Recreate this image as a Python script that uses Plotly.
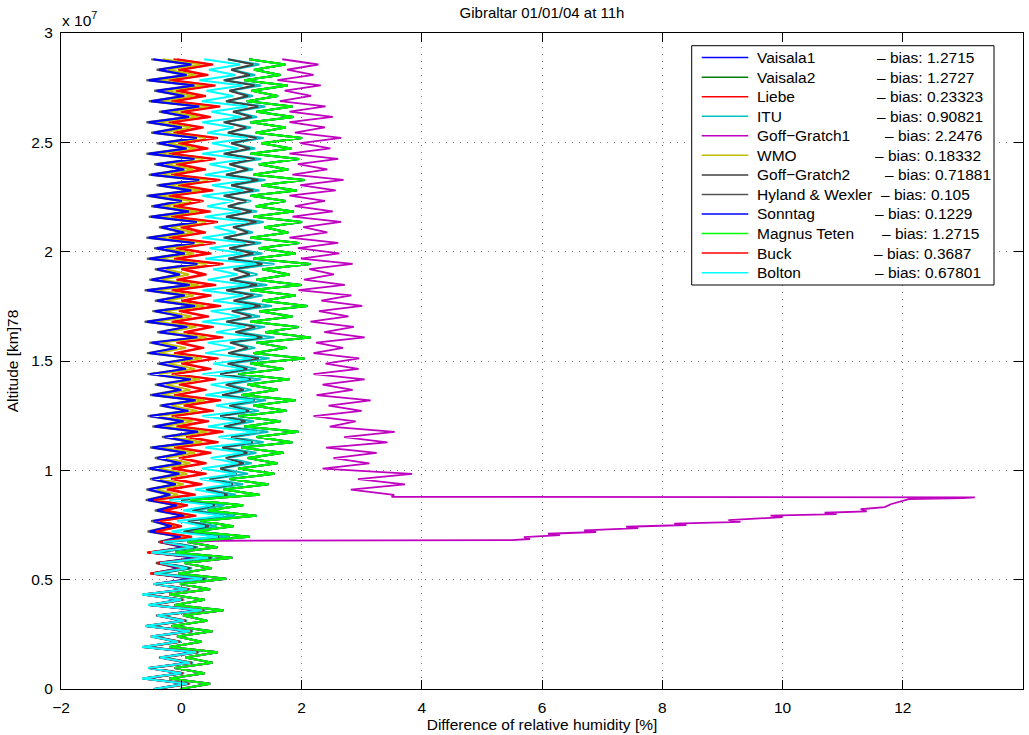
import plotly.graph_objects as go

# ---------------- data (altitude grid + relative-humidity differences, %) ----------------
alt = [k * 240000 for k in range(121)]

bolton = [-0.45, 0.10, -0.65, 0.0, -0.55, 0.15, -0.35, 0.25, -0.65, -0.05,
          -0.5, 0.15, -0.6, 0.05, -0.4, 0.35, -0.55, 0.0, -0.65, 0.1,
          -0.45, 0.35, -0.45, 0.1, -0.35, 0.45, -0.5, 0.2, -0.3, 0.61,
          -0.16, 0.39, -0.07, 0.7, 0.03, 0.52, -0.2, 0.71, 0.23, 0.83,
          0.31, 0.91, 0.35, 0.94, 0.49, 1.03, 0.4, 1.16, 0.62, 1.25,
          0.44, 0.98, 0.35, 1.07, 0.58, 1.2, 0.4, 0.94, 0.49, 1.12,
          0.35, 1.03, 0.53, 1.16, 0.4, 0.89, 0.44, 1.25, 0.58, 1.07,
          0.35, 0.98, 0.49, 1.2, 0.53, 1.03, 0.35, 1.12, 0.44, 0.94,
          0.53, 1.25, 0.4, 1.03, 0.47, 1.07, 0.35, 0.91, 0.55, 1.11,
          0.39, 0.99, 0.43, 0.87, 0.35, 1.03, 0.51, 1.15, 0.39, 0.91,
          0.47, 1.07, 0.35, 0.95, 0.51, 1.11, 0.43, 0.87, 0.35, 0.99,
          0.5, 1.1, 0.34, 0.86, 0.42, 1.02, 0.3, 0.9, 0.46, 0.98, 0.38]

sonntag = [-0.42, 0.08, -0.6, -0.02, -0.51, 0.12, -0.33, 0.21, -0.6, -0.06,
           -0.47, 0.12, -0.56, 0.03, -0.38, 0.3, -0.51, -0.02, -0.6, 0.08,
           -0.42, 0.18, -0.46, -0.02, -0.38, 0.26, -0.5, 0.06, -0.34, -0.01,
           -0.52, -0.16, -0.46, 0.05, -0.4, -0.07, -0.55, -0.18, -0.54, -0.09,
           -0.48, -0.03, -0.52, 0.0, -0.4, 0.08, -0.48, 0.2, -0.28, 0.28,
           -0.44, 0.04, -0.52, 0.12, -0.32, 0.24, -0.48, 0.0, -0.4, 0.16,
           -0.52, 0.08, -0.36, 0.19, -0.53, -0.07, -0.49, 0.27, -0.36, 0.1,
           -0.57, 0.02, -0.44, 0.23, -0.4, 0.06, -0.57, 0.14, -0.49, -0.02,
           -0.4, 0.27, -0.53, 0.06, -0.41, 0.22, -0.54, 0.05, -0.33, 0.26,
           -0.5, 0.13, -0.46, 0.01, -0.54, 0.17, -0.37, 0.3, -0.5, 0.05,
           -0.41, 0.22, -0.54, 0.09, -0.37, 0.26, -0.46, 0.01, -0.54, 0.13,
           -0.33, 0.3, -0.5, 0.05, -0.41, 0.22, -0.54, 0.09, -0.37, 0.17, -0.46]

hyland_wexler = [-0.46, 0.06, -0.64, -0.04, -0.55, 0.10, -0.37, 0.19, -0.64, -0.08,
                 -0.51, 0.10, -0.60, 0.01, -0.42, 0.28, -0.55, -0.04, -0.64, 0.06,
                 -0.46, 0.16, -0.50, -0.04, -0.42, 0.24, -0.54, 0.04, -0.38, -0.03,
                 -0.56, -0.18, -0.50, 0.03, -0.44, -0.09, -0.59, -0.20, -0.58, -0.11,
                 -0.52, -0.05, -0.56, -0.02, -0.44, 0.06, -0.52, 0.18, -0.32, 0.26,
                 -0.48, 0.02, -0.56, 0.10, -0.36, 0.22, -0.52, -0.02, -0.44, 0.14,
                 -0.56, 0.06, -0.40, 0.17, -0.57, -0.09, -0.53, 0.25, -0.40, 0.08,
                 -0.61, 0.0, -0.48, 0.21, -0.44, 0.04, -0.61, 0.12, -0.53, -0.04,
                 -0.44, 0.25, -0.57, 0.04, -0.45, 0.20, -0.58, 0.03, -0.37, 0.24,
                 -0.54, 0.11, -0.50, -0.01, -0.58, 0.15, -0.41, 0.28, -0.54, 0.03,
                 -0.45, 0.20, -0.58, 0.07, -0.41, 0.24, -0.50, -0.01, -0.58, 0.11,
                 -0.37, 0.28, -0.54, 0.03, -0.45, 0.20, -0.58, 0.07, -0.41, 0.15, -0.50]

wmo = [-0.40, 0.10, -0.58, 0.0, -0.49, 0.14, -0.31, 0.23, -0.58, -0.04,
       -0.45, 0.14, -0.54, 0.05, -0.36, 0.32, -0.49, 0.0, -0.58, 0.10,
       -0.40, 0.23, -0.41, 0.03, -0.33, 0.31, -0.45, 0.11, -0.29, 0.12,
       -0.39, -0.03, -0.33, 0.18, -0.27, 0.06, -0.42, -0.05, -0.41, 0.04,
       -0.35, 0.1, -0.37, 0.15, -0.25, 0.23, -0.33, 0.35, -0.13, 0.43,
       -0.29, 0.19, -0.37, 0.27, -0.17, 0.39, -0.33, 0.15, -0.25, 0.31,
       -0.37, 0.23, -0.21, 0.34, -0.38, 0.08, -0.34, 0.42, -0.21, 0.25,
       -0.42, 0.17, -0.29, 0.38, -0.25, 0.21, -0.42, 0.29, -0.34, 0.13,
       -0.25, 0.42, -0.38, 0.21, -0.26, 0.37, -0.39, 0.2, -0.18, 0.41,
       -0.35, 0.28, -0.31, 0.16, -0.39, 0.32, -0.22, 0.45, -0.35, 0.2,
       -0.26, 0.37, -0.39, 0.24, -0.22, 0.41, -0.31, 0.16, -0.39, 0.28,
       -0.18, 0.45, -0.35, 0.2, -0.26, 0.37, -0.39, 0.24, -0.22, 0.32, -0.31]

buck = [-0.43, 0.12, -0.63, 0.02, -0.53, 0.17, -0.33, 0.27, -0.63, -0.03,
        -0.48, 0.17, -0.58, 0.07, -0.38, 0.37, -0.53, 0.02, -0.63, 0.12,
        -0.43, 0.30, -0.50, 0.05, -0.40, 0.40, -0.55, 0.15, -0.35, 0.18,
        -0.42, 0.01, -0.35, 0.25, -0.28, 0.11, -0.45, 0.24, -0.18, 0.35,
        -0.11, 0.42, -0.1, 0.42, 0.02, 0.5, -0.06, 0.62, 0.14, 0.7,
        -0.02, 0.46, -0.1, 0.54, 0.1, 0.66, -0.06, 0.42, 0.02, 0.58,
        -0.1, 0.5, 0.06, 0.62, -0.06, 0.38, -0.02, 0.7, 0.1, 0.54,
        -0.1, 0.46, 0.02, 0.66, 0.06, 0.5, -0.1, 0.58, -0.02, 0.42,
        0.06, 0.7, -0.06, 0.5, -0.03, 0.57, -0.15, 0.41, 0.05, 0.61,
        -0.11, 0.49, -0.07, 0.37, -0.15, 0.53, 0.01, 0.65, -0.11, 0.41,
        -0.03, 0.57, -0.15, 0.45, 0.01, 0.61, -0.07, 0.37, -0.15, 0.49,
        0.05, 0.65, -0.11, 0.41, -0.03, 0.57, -0.15, 0.45, 0.01, 0.53, -0.07]

liebe = [-0.44, 0.11, -0.64, 0.01, -0.54, 0.16, -0.34, 0.26, -0.64, -0.04,
         -0.49, 0.16, -0.59, 0.06, -0.39, 0.36, -0.54, 0.01, -0.64, 0.11,
         -0.44, 0.28, -0.52, 0.03, -0.42, 0.38, -0.57, 0.13, -0.37, 0.12,
         -0.48, -0.05, -0.41, 0.19, -0.34, 0.05, -0.51, 0.18, -0.24, 0.29,
         -0.17, 0.36, -0.16, 0.36, -0.04, 0.44, -0.12, 0.56, 0.08, 0.64,
         -0.08, 0.40, -0.16, 0.48, 0.04, 0.60, -0.12, 0.36, -0.04, 0.52,
         -0.16, 0.44, 0.0, 0.56, -0.12, 0.32, -0.08, 0.64, 0.04, 0.48,
         -0.16, 0.40, -0.04, 0.60, 0.0, 0.44, -0.16, 0.52, -0.08, 0.36,
         0.0, 0.64, -0.12, 0.44, -0.09, 0.51, -0.21, 0.35, -0.01, 0.55,
         -0.17, 0.43, -0.13, 0.31, -0.21, 0.47, -0.05, 0.59, -0.17, 0.35,
         -0.09, 0.51, -0.21, 0.39, -0.05, 0.55, -0.13, 0.31, -0.21, 0.43,
         -0.01, 0.59, -0.17, 0.35, -0.09, 0.51, -0.21, 0.39, -0.05, 0.47, -0.13]

itu = [-0.40, 0.15, -0.60, 0.05, -0.50, 0.20, -0.30, 0.30, -0.60, 0.0,
       -0.45, 0.20, -0.55, 0.10, -0.35, 0.40, -0.50, 0.05, -0.60, 0.15,
       -0.40, 0.43, -0.37, 0.18, -0.27, 0.53, -0.42, 0.28, -0.22, 0.81,
       0.04, 0.59, 0.13, 0.9, 0.23, 0.72, 0.0, 0.91, 0.43, 1.03,
       0.51, 1.11, 0.65, 1.17, 0.77, 1.25, 0.69, 1.37, 0.89, 1.45,
       0.73, 1.21, 0.65, 1.29, 0.85, 1.41, 0.69, 1.17, 0.77, 1.33,
       0.65, 1.25, 0.81, 1.47, 0.79, 1.23, 0.83, 1.55, 0.95, 1.39,
       0.75, 1.31, 0.87, 1.51, 0.91, 1.35, 0.75, 1.43, 0.83, 1.27,
       0.91, 1.55, 0.79, 1.35, 0.81, 1.33, 0.7, 1.19, 0.88, 1.37,
       0.74, 1.26, 0.77, 1.16, 0.7, 1.3, 0.84, 1.4, 0.74, 1.19,
       0.81, 1.33, 0.7, 1.23, 0.84, 1.37, 0.77, 1.16, 0.7, 1.26,
       0.88, 1.4, 0.74, 1.19, 0.81, 1.33, 0.7, 1.23, 0.84, 1.3, 0.77]

goff_gratch2 = [-0.42, 0.13, -0.62, 0.03, -0.52, 0.18, -0.32, 0.28, -0.62, -0.02,
                -0.47, 0.18, -0.57, 0.08, -0.37, 0.38, -0.52, 0.03, -0.62, 0.13,
                -0.42, 0.40, -0.40, 0.15, -0.30, 0.50, -0.45, 0.25, -0.25, 0.63,
                0.04, 0.46, 0.11, 0.7, 0.18, 0.56, 0.0, 0.77, 0.41, 0.86,
                0.47, 0.92, 0.65, 1.04, 0.74, 1.1, 0.68, 1.19, 0.83, 1.25,
                0.71, 1.07, 0.65, 1.13, 0.8, 1.22, 0.68, 1.04, 0.74, 1.16,
                0.65, 1.1, 0.77, 1.29, 0.78, 1.11, 0.81, 1.35, 0.9, 1.23,
                0.75, 1.17, 0.84, 1.32, 0.87, 1.2, 0.75, 1.26, 0.81, 1.14,
                0.87, 1.35, 0.78, 1.2, 0.8, 1.22, 0.72, 1.11, 0.86, 1.25,
                0.75, 1.17, 0.78, 1.08, 0.72, 1.2, 0.83, 1.28, 0.75, 1.11,
                0.8, 1.22, 0.72, 1.14, 0.83, 1.25, 0.78, 1.08, 0.72, 1.17,
                0.86, 1.28, 0.75, 1.11, 0.8, 1.22, 0.72, 1.14, 0.83, 1.2, 0.78]

magnus_teten = [-0.02, 0.48, -0.2, 0.39, -0.11, 0.52, 0.07, 0.61, -0.2, 0.34,
                -0.07, 0.52, -0.16, 0.43, 0.03, 0.7, -0.11, 0.39, -0.2, 0.48,
                -0.02, 0.75, -0.05, 0.5, 0.05, 0.85, -0.1, 0.6, 0.1, 1.14,
                0.21, 0.87, 0.32, 1.25, 0.43, 1.03, 0.15, 1.3, 0.7, 1.45,
                0.8, 1.55, 0.95, 1.6, 1.1, 1.7, 1.0, 1.85, 1.25, 1.95,
                1.05, 1.65, 0.95, 1.75, 1.2, 1.9, 1.0, 1.6, 1.1, 1.8,
                0.95, 1.7, 1.15, 2.05, 1.2, 1.75, 1.25, 2.15, 1.4, 1.95,
                1.15, 1.85, 1.3, 2.1, 1.35, 1.9, 1.15, 2.0, 1.25, 1.8,
                1.35, 2.15, 1.2, 1.9, 1.29, 1.96, 1.15, 1.78, 1.38, 2.01,
                1.2, 1.87, 1.24, 1.74, 1.15, 1.92, 1.33, 2.05, 1.2, 1.78,
                1.29, 1.96, 1.15, 1.83, 1.33, 2.01, 1.24, 1.74, 1.15, 1.87,
                1.25, 1.85, 1.09, 1.61, 1.17, 1.77, 1.05, 1.65, 1.21, 1.73, 1.13]

# Vaisala1 has the same bias as Magnus Teten (identical profile); Vaisala2 is practically identical
vaisala1 = magnus_teten
vaisala2 = magnus_teten

# Goff-Gratch1: the big excursion between ~6.8e6 and ~8.8e6
gg1_ramp_alt = [6780000, 6810000, 6860000, 6950000, 7040000, 7100000, 7180000, 7250000,
                7360000, 7420000, 7500000, 7560000, 7640000, 7720000, 7860000, 7930000,
                8000000, 8060000, 8120000, 8220000, 8320000, 8450000, 8610000, 8680000,
                8730000, 8760000, 8790000]
gg1_ramp_x = [0.6, 5.5, 5.8, 5.7, 6.3, 6.1, 6.9, 6.7,
              7.6, 7.4, 8.4, 8.2, 9.3, 9.1, 10.0, 9.8,
              10.9, 10.7, 11.4, 11.3, 11.7, 11.8, 12.0, 12.1,
              13.0, 13.2, 3.5]
gg1_upper = [3.54, 2.82, 3.72, 2.94, 3.84,
             2.35, 3.13, 2.53, 3.25, 2.41, 3.43, 2.71, 3.55, 2.47,
             2.9, 2.2, 3.0, 2.45, 3.15, 2.25, 2.85, 2.35, 3.05, 2.2, 2.95, 2.4,
             2.96, 2.2, 2.69, 2.24, 3.05, 2.38, 2.87, 2.15, 2.78, 2.29, 3.01, 2.33, 2.83,
             1.95, 2.72, 2.04, 2.54, 2.13, 2.85, 1.99, 2.63,
             1.94, 2.61, 1.8, 2.43, 2.03, 2.66, 1.85, 2.52, 1.89, 2.39, 1.8, 2.57, 1.98,
             2.7, 1.85, 2.43, 1.94, 2.61, 1.8, 2.48, 1.98, 2.66, 1.89, 2.39, 1.8, 2.52,
             1.8, 2.4, 1.64, 2.16, 1.72, 2.32, 1.6, 2.2, 1.76, 2.28, 1.68]
gg1_alt = alt[:29] + gg1_ramp_alt + alt[37:]
goff_gratch1 = magnus_teten[:29] + gg1_ramp_x + gg1_upper

for arr in (bolton, sonntag, hyland_wexler, wmo, buck, liebe, itu, goff_gratch2, magnus_teten):
    assert len(arr) == len(alt), len(arr)
assert len(gg1_alt) == len(goff_gratch1), (len(gg1_alt), len(goff_gratch1))

names = ["Vaisala1", "Vaisala2", "Liebe", "ITU", "Goff\u2212Gratch1", "WMO", "Goff\u2212Gratch2",
         "Hyland & Wexler", "Sonntag", "Magnus Teten", "Buck", "Bolton"]
biases = ["1.2715", "1.2727", "0.23323", "0.90821", "2.2476", "0.18332", "0.71881",
          "0.105", "0.1229", "1.2715", "0.3687", "0.67801"]
colors = ["#0000ff", "#008000", "#ff0000", "#00bfbf", "#bf00bf", "#bfbf00", "#404040",
          "#555555", "#0000ff", "#00ff00", "#ff0000", "#00ffff"]
widths = [2, 2, 2, 2, 1.8, 2, 2, 2, 2, 2, 2, 2]
xs = [vaisala1, vaisala2, liebe, itu, goff_gratch1, wmo, goff_gratch2,
      hyland_wexler, sonntag, magnus_teten, buck, bolton]
ys = [alt, alt, alt, alt, gg1_alt, alt, alt, alt, alt, alt, alt, alt]

FONT = "Liberation Sans, Arial, Helvetica, sans-serif"

fig = go.Figure()
for name, b, c, w, x, y in zip(names, biases, colors, widths, xs, ys):
    fig.add_trace(go.Scatter(x=x, y=y, mode="lines", name=f"{name} \u2013 bias: {b}",
                             line=dict(color=c, width=w), showlegend=False))

# ---------------- layout ----------------
L, T, W, H = 61, 33, 962, 656
FIG_W, FIG_H = 1029, 735


def px(xp):
    return (xp - L) / W


def py(yp):
    return (T + H - yp) / H


shapes = [dict(type="rect", xref="paper", yref="paper", x0=px(691.7), x1=px(994),
               y0=py(285), y1=py(45.7), line=dict(color="black", width=1),
               fillcolor="white", layer="above")]
annotations = []
bias_px = [875, 875, 875, 875, 883, 873, 883, 879, 873, 880, 872, 873]
for k, (name, b, c) in enumerate(zip(names, biases, colors)):
    row = 57.6 + 19.55 * k
    shapes.append(dict(type="line", xref="paper", yref="paper", x0=px(701.7), x1=px(748.3),
                       y0=py(row), y1=py(row), line=dict(color=c, width=1.5), layer="above"))
    annotations.append(dict(xref="paper", yref="paper", x=px(755), y=py(row), text=name,
                            showarrow=False, xanchor="left", yanchor="middle",
                            font=dict(size=15.5, color="black", family=FONT)))
    annotations.append(dict(xref="paper", yref="paper", x=px(bias_px[k]), y=py(row),
                            text=f"\u2013 bias: {b}", showarrow=False, xanchor="left",
                            yanchor="middle", font=dict(size=15.5, color="black", family=FONT)))

annotations.append(dict(xref="paper", yref="paper", x=px(60), y=py(19), text="x 10<sup>7</sup>",
                        showarrow=False, xanchor="left", yanchor="middle",
                        font=dict(size=15.5, color="black", family=FONT)))

axis_common = dict(showline=True, linecolor="black", linewidth=1, mirror="allticks",
                   ticks="inside", ticklen=9, tickcolor="black", tickwidth=1,
                   showgrid=True, gridcolor="#7f7f7f", gridwidth=1, griddash="1px,6px",
                   zeroline=False, tickfont=dict(size=15.5, color="black", family=FONT))

fig.update_layout(
    width=FIG_W, height=FIG_H,
    margin=dict(l=L, r=FIG_W - L - W, t=T, b=FIG_H - T - H, pad=0),
    paper_bgcolor="white", plot_bgcolor="white",
    font=dict(family=FONT, size=15.5, color="black"),
    title=dict(text="Gibraltar 01/01/04 at 11h", x=px(542), xref="paper", xanchor="center",
               y=1 - 13 / FIG_H, yref="container", yanchor="middle",
               font=dict(size=15, color="black", family=FONT)),
    xaxis=dict(range=[-2, 14], tickvals=[-2, 0, 2, 4, 6, 8, 10, 12, 14],
               title=dict(text="Difference of relative humidity [%]", standoff=4,
                          font=dict(size=15.5, color="black", family=FONT)),
               ticklabelstandoff=4, automargin=False, **axis_common),
    yaxis=dict(range=[0, 3e7], tickvals=[0, 5e6, 1e7, 1.5e7, 2e7, 2.5e7, 3e7],
               ticktext=["0", "0.5", "1", "1.5", "2", "2.5", "3"],
               title=dict(text="Altitude [km]78", standoff=8,
                          font=dict(size=15.5, color="black", family=FONT)),
               ticklabelstandoff=4, automargin=False, **axis_common),
    shapes=shapes,
    annotations=annotations,
)

fig.write_html("out.html")
